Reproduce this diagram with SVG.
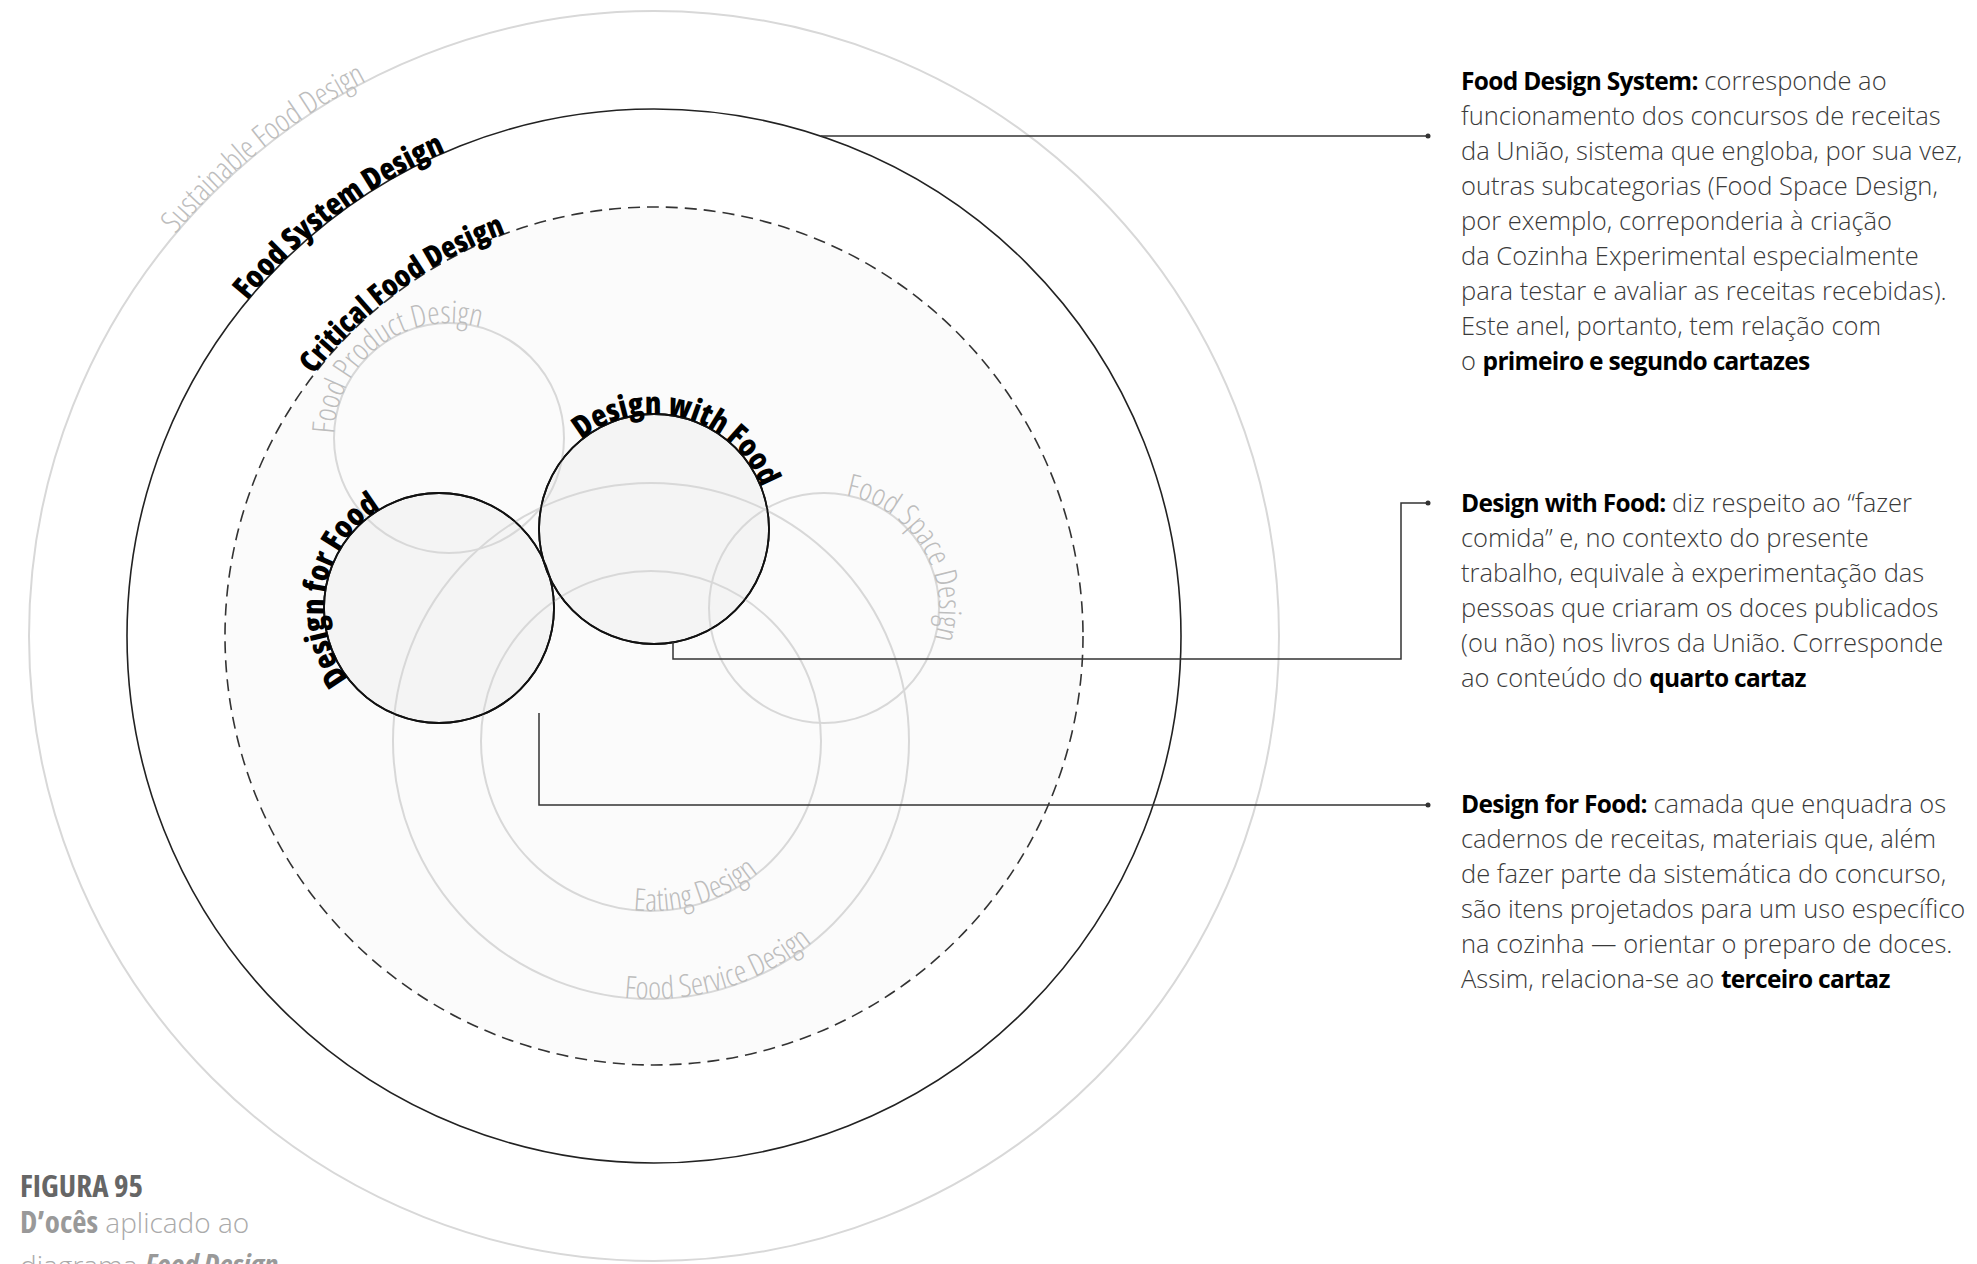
<svg xmlns="http://www.w3.org/2000/svg" width="1977" height="1264" viewBox="0 0 1977 1264">
<style>
.light{fill:none;stroke:#d8d8d8;stroke-width:2}
.ring{fill:none;stroke:#222;stroke-width:1.6}
.dash{fill:#fbfbfb;stroke:#333;stroke-width:1.6;stroke-dasharray:12 7}
.core{fill:#f4f4f4;stroke:#111;stroke-width:1.8}
.conn{fill:none;stroke:#333;stroke-width:1.5}
.dot{fill:#333}
.lbl-l{font-family:"Open Sans",sans-serif;font-weight:300;font-stretch:75%;font-size:31px;fill:#bdbdbd}
.lbl-b{font-family:"Open Sans",sans-serif;font-weight:800;font-stretch:75%;font-size:31px;fill:#000}
.lbl-c{font-size:30px}
.body{font-family:"Open Sans",sans-serif;font-weight:300;font-stretch:100%;font-size:25.5px;fill:#3a3a3a}
.body .b{font-weight:700;font-size:24.5px;letter-spacing:-0.7px;fill:#000}
.cap1{font-family:"Open Sans",sans-serif;font-weight:700;font-stretch:75%;font-size:31px;fill:#666}
.cap2{font-family:"Open Sans",sans-serif;font-weight:300;font-stretch:100%;font-size:28px;fill:#aaa}
.cap2 .b{font-weight:700;font-stretch:75%;font-size:31px;fill:#999}
</style>
<defs>
<path id="pSus" d="M175.2,234.3 A625,625 0 0 1 654,11"/>
<path id="pSys" d="M247.4,300.8 A527,527 0 0 1 700,111"/>
<path id="pCrit" d="M313.6,374.8 A429,429 0 0 1 728.5,213.5"/>
<path id="pWith" d="M581.6,439.6 A115,115 0 0 1 762.1,568.3"/>
<path id="pFor" d="M348.4,678.8 A115,115 0 0 1 459,494.7"/>
<path id="pProd" d="M334.1,434 A115,115 0 0 1 537.1,364.1"/>
<path id="pSpace" d="M845.9,495.1 A115,115 0 0 1 881.5,707.6"/>
<path id="pEat" d="M633.2,910.1 A170,170 0 0 0 810.7,799.1"/>
<path id="pServ" d="M624,997.6 A258,258 0 0 0 893.4,829.2"/>
</defs>
<rect width="1977" height="1264" fill="#fff"/>

<g id="sustainable-food-design">
<circle class="light" cx="654" cy="636" r="625"/>
</g>
<g id="food-system-design">
<circle class="ring" cx="654" cy="636" r="527"/>
</g>
<g id="critical-food-design">
<circle class="dash" cx="654" cy="636" r="429"/>
</g>
<g id="design-for-food">
<circle class="core" cx="439" cy="608" r="115"/>
</g>
<g id="design-with-food">
<circle class="core" cx="654" cy="529" r="115"/>
</g>
<g id="food-product-design">
<circle class="light" cx="449" cy="438" r="115"/>
</g>
<g id="food-space-design">
<circle class="light" cx="824" cy="608" r="115"/>
</g>
<g id="food-service-design">
<circle class="light" cx="651" cy="741" r="258"/>
</g>
<g id="eating-design">
<circle class="light" cx="651" cy="741" r="170"/>
</g>
<g id="core-outlines">
<circle cx="439" cy="608" r="115" fill="none" stroke="#111" stroke-width="1.8"/>
<circle cx="654" cy="529" r="115" fill="none" stroke="#111" stroke-width="1.8"/>
</g>

<g id="connectors">
<polyline class="conn" points="821,136 1428,136"/>
<circle class="dot" cx="1428" cy="136" r="2.5"/>
<polyline class="conn" points="673,642 673,659 1401,659 1401,503 1428,503"/>
<circle class="dot" cx="1428" cy="503" r="2.5"/>
<polyline class="conn" points="539,713 539,805 1428,805"/>
<circle class="dot" cx="1428" cy="805" r="2.5"/>
</g>

<g id="ring-labels">
<text class="lbl-l"><textPath href="#pSus">Sustainable Food Design</textPath></text>
<text class="lbl-b"><textPath href="#pSys">Food System Design</textPath></text>
<text class="lbl-b lbl-c"><textPath href="#pCrit">Critical Food Design</textPath></text>
<text class="lbl-b"><textPath href="#pWith">Design with Food</textPath></text>
<text class="lbl-b"><textPath href="#pFor">Design for Food</textPath></text>
<text class="lbl-l"><textPath href="#pProd">Food Product Design</textPath></text>
<text class="lbl-l"><textPath href="#pSpace">Food Space Design</textPath></text>
<text class="lbl-l"><textPath href="#pEat">Eating Design</textPath></text>
<text class="lbl-l"><textPath href="#pServ">Food Service Design</textPath></text>
</g>

<g id="note-food-design-system">
<text class="body">
<tspan x="1461" y="90"><tspan class="b">Food Design System:</tspan> corresponde ao</tspan>
<tspan x="1461" y="125">funcionamento dos concursos de receitas</tspan>
<tspan x="1461" y="160">da União, sistema que engloba, por sua vez,</tspan>
<tspan x="1461" y="195">outras subcategorias (Food Space Design,</tspan>
<tspan x="1461" y="230">por exemplo, correponderia à criação</tspan>
<tspan x="1461" y="265">da Cozinha Experimental especialmente</tspan>
<tspan x="1461" y="300">para testar e avaliar as receitas recebidas).</tspan>
<tspan x="1461" y="335">Este anel, portanto, tem relação com</tspan>
<tspan x="1461" y="370">o <tspan class="b">primeiro e segundo cartazes</tspan></tspan>
</text>
</g>
<g id="note-design-with-food">
<text class="body">
<tspan x="1461" y="512"><tspan class="b">Design with Food:</tspan> diz respeito ao “fazer</tspan>
<tspan x="1461" y="547">comida” e, no contexto do presente</tspan>
<tspan x="1461" y="582">trabalho, equivale à experimentação das</tspan>
<tspan x="1461" y="617">pessoas que criaram os doces publicados</tspan>
<tspan x="1461" y="652">(ou não) nos livros da União. Corresponde</tspan>
<tspan x="1461" y="687">ao conteúdo do <tspan class="b">quarto cartaz</tspan></tspan>
</text>
</g>
<g id="note-design-for-food">
<text class="body">
<tspan x="1461" y="813"><tspan class="b">Design for Food:</tspan> camada que enquadra os</tspan>
<tspan x="1461" y="848">cadernos de receitas, materiais que, além</tspan>
<tspan x="1461" y="883">de fazer parte da sistemática do concurso,</tspan>
<tspan x="1461" y="918">são itens projetados para um uso específico</tspan>
<tspan x="1461" y="953">na cozinha — orientar o preparo de doces.</tspan>
<tspan x="1461" y="988">Assim, relaciona-se ao <tspan class="b">terceiro cartaz</tspan></tspan>
</text>
</g>

<g id="caption">
<text class="cap1" x="20" y="1197">FIGURA 95</text>
<text class="cap2" x="20" y="1233"><tspan class="b">D’ocês</tspan> aplicado ao</text>
<text class="cap2" x="20" y="1276">diagrama <tspan class="b" font-style="italic">Food Design</tspan></text>
</g>
</svg>
